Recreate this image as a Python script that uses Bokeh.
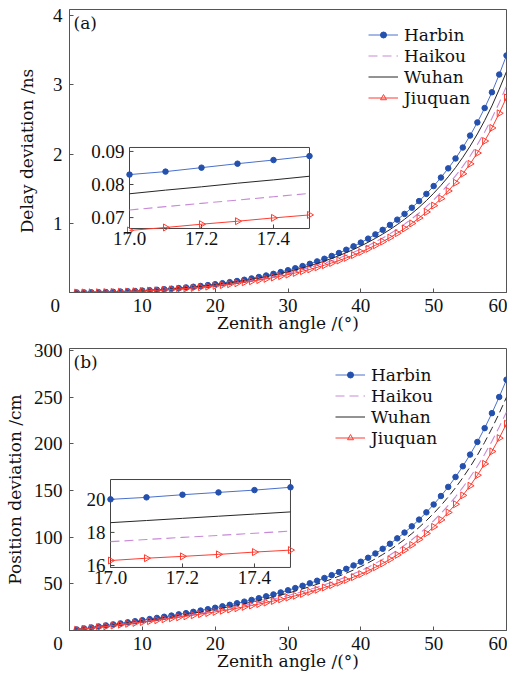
import numpy as np
from bokeh.plotting import figure
from bokeh.layouts import column
from bokeh.models import Range1d, FixedTicker, Label, Legend, LegendItem
from bokeh.core.properties import value
from bokeh.embed import file_html
from bokeh.resources import INLINE

NUM_FONT = "Liberation Serif"
TXT_FONT = "DejaVu Serif"

# ---------------- data ----------------
zenith = list(range(1, 61))

delay_harbin = [0.0003, 0.0011, 0.0024, 0.0042, 0.0066, 0.0096, 0.0131, 0.0173, 0.0219, 0.0272,
                0.0332, 0.0397, 0.0470, 0.0549, 0.0635, 0.0728, 0.0830, 0.0944, 0.1067, 0.1200,
                0.1344, 0.1498, 0.1663, 0.1841, 0.2033, 0.2239, 0.2458, 0.2694, 0.2947, 0.3216,
                0.3505, 0.3815, 0.4141, 0.4495, 0.4874, 0.5279, 0.5713, 0.6177, 0.6676, 0.7210,
                0.7784, 0.8399, 0.9053, 0.9764, 1.053, 1.136, 1.225, 1.321, 1.425, 1.538,
                1.661, 1.794, 1.937, 2.095, 2.268, 2.458, 2.666, 2.894, 3.150, 3.426]
delay_haikou = [0.0002, 0.0009, 0.0021, 0.0037, 0.0057, 0.0084, 0.0114, 0.0151, 0.0191, 0.0237,
                0.0289, 0.0345, 0.0409, 0.0478, 0.0552, 0.0633, 0.0722, 0.0821, 0.0928, 0.1044,
                0.1169, 0.1303, 0.1447, 0.1602, 0.1769, 0.1948, 0.2138, 0.2344, 0.2564, 0.2798,
                0.3049, 0.3319, 0.3603, 0.3911, 0.4240, 0.4593, 0.4970, 0.5374, 0.5808, 0.6273,
                0.6772, 0.7307, 0.7876, 0.8495, 0.9161, 0.9883, 1.066, 1.149, 1.240, 1.338,
                1.445, 1.561, 1.685, 1.823, 1.973, 2.138, 2.319, 2.518, 2.741, 2.981]
delay_wuhan = [0.0003, 0.0010, 0.0022, 0.0039, 0.0062, 0.0089, 0.0122, 0.0161, 0.0204, 0.0254,
               0.0309, 0.0370, 0.0438, 0.0512, 0.0592, 0.0679, 0.0774, 0.0880, 0.0994, 0.1118,
               0.1253, 0.1396, 0.1550, 0.1716, 0.1895, 0.2087, 0.2291, 0.2511, 0.2747, 0.2997,
               0.3267, 0.3556, 0.3859, 0.4189, 0.4543, 0.4920, 0.5325, 0.5757, 0.6222, 0.6720,
               0.7255, 0.7828, 0.8437, 0.9100, 0.9814, 1.058, 1.142, 1.231, 1.328, 1.434,
               1.548, 1.672, 1.805, 1.953, 2.114, 2.291, 2.485, 2.697, 2.936, 3.193]
delay_jiuquan = [0.0002, 0.0009, 0.0019, 0.0034, 0.0053, 0.0077, 0.0104, 0.0138, 0.0175, 0.0217,
                 0.0265, 0.0316, 0.0375, 0.0438, 0.0506, 0.0580, 0.0662, 0.0753, 0.0852, 0.0958,
                 0.1074, 0.1198, 0.1331, 0.1475, 0.1630, 0.1797, 0.1974, 0.2165, 0.2370, 0.2588,
                 0.2823, 0.3075, 0.3340, 0.3628, 0.3937, 0.4268, 0.4622, 0.5001, 0.5409, 0.5846,
                 0.6316, 0.6820, 0.7356, 0.7940, 0.8569, 0.9252, 0.9984, 1.077, 1.163, 1.256,
                 1.357, 1.467, 1.586, 1.716, 1.859, 2.016, 2.189, 2.378, 2.590, 2.819]

pos_harbin = [1.08, 2.15, 3.24, 4.33, 5.42, 6.53, 7.64, 8.78, 9.93, 11.09,
              12.28, 13.49, 14.73, 16.00, 17.30, 18.63, 20.00, 21.41, 22.87, 24.37,
              25.93, 27.54, 29.21, 30.95, 32.76, 34.65, 36.62, 38.68, 40.83, 43.09,
              45.46, 47.96, 50.59, 53.35, 56.28, 59.37, 62.64, 66.11, 69.80, 73.72,
              78.0, 82.6, 87.6, 93.0, 98.8, 105.0, 111.7, 118.9, 126.7, 135.1,
              144.2, 154.0, 164.6, 176.1, 188.6, 202.2, 217.0, 233.1, 250.4, 269.0]
pos_haikou = [0.94, 1.87, 2.82, 3.77, 4.72, 5.69, 6.65, 7.65, 8.65, 9.66,
              10.70, 11.75, 12.83, 13.94, 15.07, 16.23, 17.42, 18.65, 19.92, 21.23,
              22.58, 23.99, 25.44, 26.96, 28.53, 30.18, 31.90, 33.69, 35.56, 37.53,
              39.60, 41.77, 44.06, 46.47, 49.02, 51.71, 54.56, 57.58, 60.80, 64.21,
              67.94, 71.94, 76.30, 81.00, 86.05, 91.46, 97.29, 103.6, 110.4, 117.7,
              125.6, 134.1, 143.4, 153.4, 164.3, 176.1, 189.0, 203.0, 218.1, 234.3]
pos_wuhan = [1.00, 2.00, 3.01, 4.03, 5.04, 6.07, 7.11, 8.17, 9.23, 10.31,
             11.42, 12.55, 13.70, 14.88, 16.09, 17.33, 18.60, 19.91, 21.27, 22.66,
             24.11, 25.61, 27.17, 28.78, 30.47, 32.22, 34.06, 35.97, 37.97, 40.07,
             42.28, 44.60, 47.05, 49.62, 52.34, 55.21, 58.26, 61.48, 64.91, 68.56,
             72.54, 76.82, 81.47, 86.49, 91.88, 97.65, 103.9, 110.6, 117.8, 125.6,
             134.1, 143.2, 153.1, 163.8, 175.4, 188.0, 201.8, 216.8, 232.9, 250.2]
pos_jiuquan = [0.88, 1.76, 2.65, 3.54, 4.43, 5.34, 6.25, 7.18, 8.12, 9.07,
               10.05, 11.04, 12.05, 13.09, 14.15, 15.24, 16.36, 17.51, 18.71, 19.93,
               21.21, 22.53, 23.89, 25.32, 26.80, 28.34, 29.96, 31.64, 33.40, 35.25,
               37.20, 39.25, 41.41, 43.68, 46.09, 48.64, 51.33, 54.18, 57.22, 60.45,
               63.98, 67.77, 71.88, 76.33, 81.11, 86.23, 91.75, 97.69, 104.1, 111.1,
               118.6, 126.6, 135.4, 144.9, 155.2, 166.5, 178.7, 192.0, 206.3, 221.7]

inset_x = [17.0, 17.1, 17.2, 17.3, 17.4, 17.5]
inset_delay_harbin = [0.0830, 0.0839, 0.0851, 0.0863, 0.0874, 0.0886]
inset_delay_wuhan = [0.0772, 0.0783, 0.0793, 0.0804, 0.0814, 0.0825]
inset_delay_haikou = [0.0723, 0.0733, 0.0743, 0.0753, 0.0763, 0.0773]
inset_delay_jiuquan = [0.0661, 0.0670, 0.0680, 0.0689, 0.0699, 0.0708]
inset_pos_harbin = [20.00, 20.12, 20.28, 20.42, 20.56, 20.73]
inset_pos_wuhan = [18.59, 18.72, 18.85, 18.98, 19.11, 19.24]
inset_pos_haikou = [17.44, 17.57, 17.70, 17.82, 17.95, 18.08]
inset_pos_jiuquan = [16.30, 16.44, 16.55, 16.67, 16.81, 16.93]

x_ticks = [0, 10, 20, 30, 40, 50, 60]
delay_ticks = [1, 2, 3, 4]
pos_ticks = [50, 100, 150, 200, 250, 300]
inset_x_ticks = [17.0, 17.2, 17.4]
inset_x_labels = ["17.0", "17.2", "17.4"]
inset_delay_ticks = [0.07, 0.08, 0.09]
inset_delay_labels = ["0.07", "0.08", "0.09"]
inset_pos_ticks = [16, 18, 20]
inset_pos_labels = ["16", "18", "20"]

names = ["Harbin", "Haikou", "Wuhan", "Jiuquan"]

C_HARBIN = "#4a70cc"
C_HARBIN_M = "#2450ae"
C_HAIKOU = "#c88ad8"
C_WUHAN = "#262626"
C_JIUQUAN = "#ff3b30"
FRAME = "#555555"
TXT = "#111111"


def style_axes(p, yticks, ylabel, ylabel_standoff, zero_label):
    p.grid.visible = False
    p.outline_line_color = FRAME
    p.outline_line_width = 1
    p.xaxis.ticker = FixedTicker(ticks=x_ticks)
    p.yaxis.ticker = FixedTicker(ticks=yticks)
    for ax in (p.xaxis[0], p.yaxis[0]):
        ax.axis_line_color = FRAME
        ax.major_tick_line_color = FRAME
        ax.major_tick_in = 4
        ax.major_tick_out = 0
        ax.minor_tick_line_color = None
        ax.major_label_text_font = NUM_FONT
        ax.major_label_text_font_size = "19px"
        ax.major_label_text_color = TXT
        ax.axis_label_text_font = TXT_FONT
        ax.axis_label_text_font_size = "17px"
        ax.axis_label_text_font_style = "normal"
        ax.axis_label_text_color = TXT
    # the corner "0" sits left of the frame corner, as in the original
    p.xaxis.major_label_overrides = {0: zero_label}
    p.xaxis.axis_label = "Zenith angle /(°)"
    p.xaxis.major_label_standoff = 2
    p.xaxis.axis_label_standoff = -6
    p.yaxis.axis_label = ylabel
    p.yaxis.major_label_standoff = 7
    p.yaxis.axis_label_standoff = ylabel_standoff


def panel(height, top_border, bottom_border, ytop, yticks, ylabel, ylabel_standoff,
          zero_label, tag, h, hk, wu, jq, wuhan_dash, inset, legend_xy):
    p = figure(width=507, height=height, x_range=Range1d(0, 60), y_range=Range1d(0, ytop),
               output_backend="svg", toolbar_location=None,
               min_border_left=69, min_border_right=1, min_border_top=top_border,
               min_border_bottom=bottom_border)
    style_axes(p, yticks, ylabel, ylabel_standoff, zero_label)

    r_h_line = p.line(zenith, h, line_color=C_HARBIN, line_width=1)
    r_h_pt = p.scatter(zenith, h, marker="circle", size=5.5, fill_color=C_HARBIN_M,
                       line_color=C_HARBIN_M)
    r_hk = p.line(zenith, hk, line_color=C_HAIKOU, line_width=1.1, line_dash="9 5")
    r_wu = p.line(zenith, wu, line_color=C_WUHAN, line_width=1, line_dash=wuhan_dash)
    r_jq_line = p.line(zenith, jq, line_color=C_JIUQUAN, line_width=1)
    r_jq_pt = p.scatter(zenith, jq, marker="triangle", size=7, angle=-np.pi / 2,
                        fill_color=None, line_color=C_JIUQUAN, line_width=1)

    p.add_layout(Label(x=0, y=ytop, text=tag, x_offset=4, y_offset=-3,
                       text_baseline="top", text_font=TXT_FONT, text_font_size="17px",
                       text_color=TXT))

    # inset
    xs_r, ys_r, xt_r, yt_r, ih, iwu, ihk, ijq, iyt, iyl = inset
    sub = p.subplot(x_source=xs_r, y_source=ys_r, x_target=xt_r, y_target=yt_r)
    sub.quad(left=[xs_r.start], right=[xs_r.end], bottom=[ys_r.start], top=[ys_r.end],
             fill_color="white", line_color="#444444", line_width=1)
    sub.ray(x=inset_x_ticks, y=[ys_r.start] * 3, length=4, length_units="screen",
            angle=np.pi / 2, line_color="#444444")
    sub.ray(x=[xs_r.start] * 3, y=iyt, length=4, length_units="screen",
            angle=0, line_color="#444444")
    sub.line(inset_x, ih, line_color=C_HARBIN, line_width=1)
    sub.scatter(inset_x, ih, marker="circle", size=5.5, fill_color=C_HARBIN_M,
                line_color=C_HARBIN_M)
    r_iwu = sub.line(inset_x, iwu, line_color=C_WUHAN, line_width=1)
    sub.line(inset_x, ihk, line_color=C_HAIKOU, line_width=1.1, line_dash="9 5")
    sub.line(inset_x, ijq, line_color=C_JIUQUAN, line_width=1)
    sub.scatter(inset_x, ijq, marker="triangle", size=7, angle=-np.pi / 2,
                fill_color=None, line_color=C_JIUQUAN, line_width=1)
    sub.text(x=inset_x_ticks, y=[ys_r.start] * 3, text=inset_x_labels,
             text_font=value(NUM_FONT), text_font_size=value("19px"), text_align="center",
             text_baseline="top", y_offset=4, text_color=TXT)
    sub.text(x=[xs_r.start] * 3, y=iyt, text=iyl,
             text_font=value(NUM_FONT), text_font_size=value("19px"), text_align="right",
             text_baseline="middle", x_offset=-5, text_color=TXT)

    wu_leg = r_wu if wuhan_dash == "solid" else r_iwu
    legend = Legend(items=[
        LegendItem(label=names[0], renderers=[r_h_line, r_h_pt]),
        LegendItem(label=names[1], renderers=[r_hk]),
        LegendItem(label=names[2], renderers=[wu_leg]),
        LegendItem(label=names[3], renderers=[r_jq_line, r_jq_pt]),
    ], location=legend_xy)
    legend.border_line_color = None
    legend.background_fill_alpha = 0
    legend.padding = 0
    legend.margin = 0
    legend.spacing = 0
    legend.glyph_width = 30
    legend.glyph_height = 15
    legend.label_height = 21
    legend.label_standoff = 6
    legend.label_text_font = TXT_FONT
    legend.label_text_font_size = "17px"
    legend.label_text_color = TXT
    p.add_layout(legend)
    return p


# top panel: frame at y 9..292; bottom panel frame at y 348..630
p1 = panel(340, 9, 48, 4.09, delay_ticks, "Delay deviation /ns", 13,
           "0\u2007\u2007\u2007", "(a)",
           delay_harbin, delay_haikou, delay_wuhan, delay_jiuquan, "solid",
           (Range1d(17.0, 17.5), Range1d(0.0667, 0.0912), Range1d(8.24, 32.95),
            Range1d(0.925, 2.096), inset_delay_harbin, inset_delay_wuhan,
            inset_delay_haikou, inset_delay_jiuquan, inset_delay_ticks, inset_delay_labels),
           (299, 184))
p2 = panel(338, 8, 48, 302.4, pos_ticks, "Position deviation /cm", 6,
           "0\u2007\u2007\u2009", "(b)",
           pos_harbin, pos_haikou, pos_wuhan, pos_jiuquan, "8 4",
           (Range1d(17.0, 17.5), Range1d(15.88, 21.2), Range1d(5.63, 30.34),
            Range1d(67.6, 161.9), inset_pos_harbin, inset_pos_wuhan,
            inset_pos_haikou, inset_pos_jiuquan, inset_pos_ticks, inset_pos_labels),
           (266, 182))

layout = column(p1, p2, spacing=0)
open("out.html", "w").write(file_html(layout, INLINE))
